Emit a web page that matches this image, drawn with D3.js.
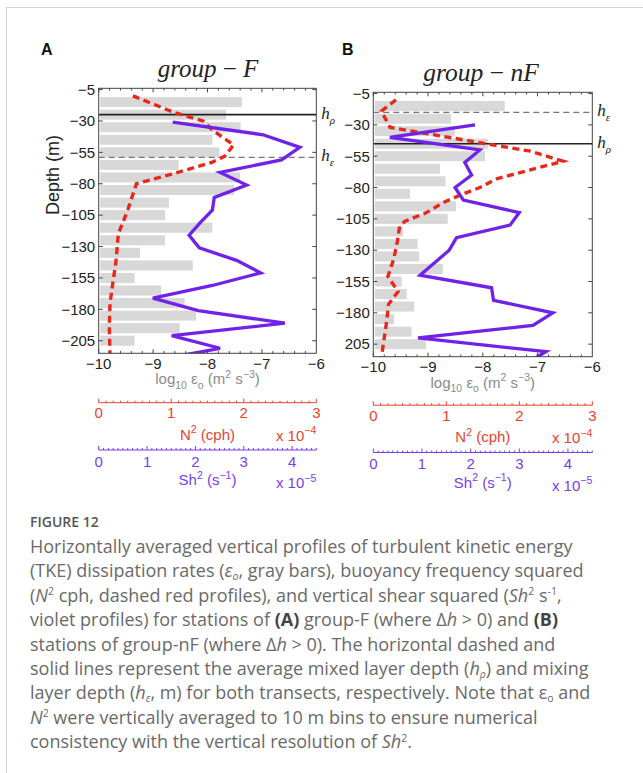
<!DOCTYPE html>
<html><head><meta charset="utf-8">
<script src="https://cdn.jsdelivr.net/npm/d3@7"></script>
<style>body{margin:0;background:#fff}svg{display:block}</style>
</head><body>
<svg id="c" width="643" height="773"></svg>
<script>
// ---------------- data ----------------
const yTicks = [-5, -30, -55, -80, -105, -130, -155, -180, -205];
const yTickLabelsA = ["\u22125", "\u221230", "\u221255", "\u221280", "\u2212105", "\u2212130", "\u2212155", "\u2212180", "\u2212205"];
const yTickLabelsB = ["\u22125", "\u221230", "\u221255", "\u221280", "\u2212105", "\u2212130", "\u2212155", "\u2212180", "205"];
const xTicks = [-10, -9, -8, -7, -6];
const xTickLabels = ["\u221210", "\u22129", "\u22128", "\u22127", "\u22126"];
const n2Ticks = [0, 1, 2, 3];
const shTicks = [0, 1, 2, 3, 4];

// 10 m bins (depth, m) for log10 epsilon bars
const binDepths = [-15, -25, -35, -45, -55, -65, -75, -85, -95, -105, -115, -125, -135, -145, -155, -165, -175, -185, -195, -205];
const epsA = [-7.37, -7.66, -7.39, -7.91, -7.78, -8.53, -7.40, -7.51, -8.71, -8.78, -7.91, -8.78, -9.24, -8.27, -9.34, -8.85, -8.42, -8.21, -8.51, -9.34];
const epsB = [-7.60, -8.58, -8.51, -7.90, -7.96, -8.78, -8.68, -9.33, -8.49, -8.64, -9.46, -9.19, -9.16, -8.73, -9.48, -9.39, -9.25, -9.62, -9.30, -9.04];

// N^2 (x 1e-4 cph)
const n2DepthA = [-10, -23, -30, -37, -49, -58, -63, -72, -80, -101, -120, -141, -157, -175, -194, -216];
const n2A = [0.47, 1.03, 1.44, 1.56, 1.86, 1.74, 1.56, 1.03, 0.52, 0.40, 0.27, 0.24, 0.20, 0.156, 0.146, 0.156];
const n2DepthB = [-10, -19, -32, -51, -59, -73, -80, -86, -92, -100, -107, -111, -123, -137, -151, -163, -173, -188, -204, -216];
const n2B = [0.31, 0.11, 0.23, 2.15, 2.60, 1.69, 1.46, 1.19, 0.96, 0.73, 0.43, 0.36, 0.33, 0.28, 0.20, 0.34, 0.21, 0.18, 0.14, 0.11];

// Sh^2 (x 1e-5 s^-1)
const shDepthA = [-31, -41, -51, -61, -71, -81, -91, -101, -111, -121, -131, -141, -151, -161, -171, -181, -191, -201, -211, -221];
const shA = [1.53, 3.40, 4.16, 3.78, 2.51, 3.06, 2.39, 2.35, 2.10, 1.87, 2.08, 2.85, 3.35, 2.35, 1.12, 2.06, 3.85, 1.51, 2.51, 1.10];
const shDepthB = [-30, -40, -50, -60, -70, -80, -90, -100, -110, -120, -130, -140, -150, -160, -170, -180, -190, -200, -211, -220];
const shB = [2.09, 0.34, 2.19, 1.88, 2.02, 1.68, 1.85, 3.00, 2.81, 1.71, 1.56, 1.26, 0.96, 2.43, 2.47, 3.69, 3.28, 0.92, 3.55, 3.15];

// mixed layer depth (h_rho) and mixing layer depth (h_eps), m
const hRho = [-25, -45];
const hEps = [-59, -20];
const titles = ["F", "nF"];
const panelLetters = ["A", "B"];

// ---------------- drawing ----------------
const svg = d3.select("#c");
svg.append("rect").attr("width", 643).attr("height", 773).attr("fill", "#fff");
svg.append("rect").attr("x", 6.5).attr("y", 7.5).attr("width", 700).attr("height", 800)
  .attr("fill", "none").attr("stroke", "#d2d2d2").attr("stroke-width", 1);

const SANS = "'Liberation Sans', Arial, sans-serif";
const SERIF = "'Liberation Serif', 'Times New Roman', serif";
const RED = "#e8281a", REDT = "#e8432e";
const PUR = "#7022e8", PURT = "#7b3cec";

function rich(g, x, y, parts, o) {
  const t = g.append("text").attr("x", x).attr("y", y)
    .attr("font-family", o.family || SANS).attr("font-size", o.size)
    .attr("fill", o.fill || "#222").attr("text-anchor", o.anchor || "start");
  let shift = 0;
  const small = o.small || o.size * 0.7;
  const supK = o.supK || 0.42, subK = o.subK || 0.3;
  parts.forEach(p => {
    const s = t.append("tspan").text(p.t);
    const target = p.sup ? -o.size * supK : p.sub ? o.size * subK : 0;
    if (target !== shift) s.attr("dy", target - shift);
    shift = target;
    if (p.sup || p.sub) s.attr("font-size", small);
    if (p.i) s.attr("font-style", "italic");
    if (p.b) s.attr("font-weight", "bold");
    if (p.f) s.attr("font-family", p.f);
    if (p.fill) s.attr("fill", p.fill);
  });
  return t;
}

const panels = [
  { L: 98.7, R: 316.3, T: 88.3, B: 353.3, dy: 0, eps: epsA, yLab: yTickLabelsA, n2d: n2DepthA, n2: n2A, shd: shDepthA, sh: shA, letterX: 41, titleX: 208, titleY: 77, titleSize: 25 },
  { L: 373.3, R: 592.3, T: 92.3, B: 356.7, dy: 2.5, eps: epsB, yLab: yTickLabelsB, n2d: n2DepthB, n2: n2B, shd: shDepthB, sh: shB, letterX: 342, titleX: 481, titleY: 81, titleSize: 25.5 }
];

panels.forEach((P, k) => {
  const g = svg.append("g");
  const x = d3.scaleLinear().domain([-10, -6]).range([P.L, P.R]);
  const y = d3.scaleLinear().domain([-4, -215]).range([P.T, P.B]);
  const xn = d3.scaleLinear().domain([0, 3]).range([P.L, P.R]);
  const xs = d3.scaleLinear().domain([0, 4.5]).range([P.L, P.R]);

  const clipId = "clip" + k;
  g.append("clipPath").attr("id", clipId).append("rect")
    .attr("x", P.L).attr("y", P.T).attr("width", P.R - P.L).attr("height", P.B - P.T);

  // letters & titles
  g.append("text").attr("x", P.letterX).attr("y", 55).attr("font-family", SANS)
    .attr("font-weight", "bold").attr("font-size", 16).attr("fill", "#111").text(panelLetters[k]);
  rich(g, P.titleX, P.titleY, [
    { t: "group", i: true }, { t: " \u2212 " }, { t: titles[k], i: true }
  ], { family: SERIF, size: P.titleSize, anchor: "middle", fill: "#222" });

  const pg = g.append("g").attr("clip-path", `url(#${clipId})`);
  // bars
  pg.selectAll("rect.bar").data(binDepths).join("rect").attr("class", "bar")
    .attr("x", x(-10) + 1.5)
    .attr("y", d => y(d + 4))
    .attr("width", (d, i) => x(P.eps[i]) - x(-10) - 1.5)
    .attr("height", d => y(d - 4) - y(d + 4))
    .attr("fill", "#d8d8d8");

  // horizontal reference lines
  pg.append("line").attr("x1", P.L).attr("x2", P.R).attr("y1", y(hRho[k])).attr("y2", y(hRho[k]))
    .attr("stroke", "#222").attr("stroke-width", 1.6);
  pg.append("line").attr("x1", P.L).attr("x2", P.R).attr("y1", y(hEps[k])).attr("y2", y(hEps[k]))
    .attr("stroke", "#777").attr("stroke-width", 1.1).attr("stroke-dasharray", "6,4");

  // N2 dashed red
  const n2Line = d3.line().x(d => xn(d[1])).y(d => y(d[0]));
  pg.append("path").datum(P.n2d.map((d, i) => [d, P.n2[i]]))
    .attr("d", n2Line).attr("fill", "none").attr("stroke", RED)
    .attr("stroke-width", 3.4).attr("stroke-dasharray", "7,4.5");
  // Sh2 violet
  const shLine = d3.line().x(d => xs(d[1])).y(d => y(d[0]));
  pg.append("path").datum(P.shd.map((d, i) => [d, P.sh[i]]))
    .attr("d", shLine).attr("fill", "none").attr("stroke", PUR)
    .attr("stroke-width", 3.3).attr("stroke-linejoin", "miter");

  // frame
  g.append("rect").attr("x", P.L).attr("y", P.T).attr("width", P.R - P.L).attr("height", P.B - P.T)
    .attr("fill", "none").attr("stroke", "#444").attr("stroke-width", 1);

  // x ticks (top & bottom, inward)
  const minorX = d3.range(-10, -6.001, 0.2);
  minorX.forEach(v => {
    const major = Math.abs(v - Math.round(v)) < 1e-6;
    const len = major ? 4 : 2.2;
    g.append("line").attr("x1", x(v)).attr("x2", x(v)).attr("y1", P.B).attr("y2", P.B - len).attr("stroke", "#444");
    g.append("line").attr("x1", x(v)).attr("x2", x(v)).attr("y1", P.T).attr("y2", P.T + len).attr("stroke", "#444");
  });
  // y ticks (left & right, inward)
  yTicks.forEach(v => {
    g.append("line").attr("x1", P.L).attr("x2", P.L + 4).attr("y1", y(v)).attr("y2", y(v)).attr("stroke", "#444");
    g.append("line").attr("x1", P.R).attr("x2", P.R - 4).attr("y1", y(v)).attr("y2", y(v)).attr("stroke", "#444");
  });
  g.selectAll("text.yt").data(yTicks).join("text").attr("class", "yt")
    .attr("x", P.L - 3.5).attr("y", d => y(d) + 5.3).attr("text-anchor", "end")
    .attr("font-family", SANS).attr("font-size", 15).attr("fill", "#222")
    .text((d, i) => P.yLab[i]);
  g.selectAll("text.xt").data(xTicks).join("text").attr("class", "xt")
    .attr("x", d => x(d)).attr("y", P.B + 15.5).attr("text-anchor", "middle")
    .attr("font-family", SANS).attr("font-size", 15).attr("fill", "#222")
    .text((d, i) => xTickLabels[i]);

  if (k === 0) {
    g.append("text").attr("transform", "translate(59,175) rotate(-90)")
      .attr("text-anchor", "middle").attr("font-family", SANS).attr("font-size", 18)
      .attr("fill", "#222").text("Depth (m)");
  }

  const cx = (P.L + P.R) / 2;
  rich(g, cx, P.B + 31, [
    { t: "log" }, { t: "10", sub: true }, { t: " \u03b5" }, { t: "o", sub: true }, { t: " (m" }, { t: "2", sup: true }, { t: " s" }, { t: "\u22123", sup: true }, { t: ")" }
  ], { size: 15, anchor: "middle", fill: "#8a8a8a" });

  // N2 axis (red)
  const ny = 402.7 + P.dy;
  g.append("line").attr("x1", P.L).attr("x2", P.R).attr("y1", ny).attr("y2", ny).attr("stroke", REDT).attr("stroke-width", 1);
  d3.range(0, 3.001, 0.1).forEach(v => {
    const major = Math.abs(v - Math.round(v)) < 1e-6;
    g.append("line").attr("x1", xn(v)).attr("x2", xn(v)).attr("y1", ny).attr("y2", ny - (major ? 4 : 2))
      .attr("stroke", REDT).attr("stroke-width", 1);
  });
  g.selectAll("text.nt").data(n2Ticks).join("text").attr("class", "nt")
    .attr("x", d => xn(d)).attr("y", ny + 15.5).attr("text-anchor", "middle")
    .attr("font-family", SANS).attr("font-size", 15).attr("fill", REDT).text(d => d);
  rich(g, cx, ny + 37, [{ t: "N" }, { t: "2", sup: true }, { t: " (cph)" }], { size: 15, anchor: "middle", fill: REDT });
  rich(g, P.R, ny + 38, [{ t: "x 10" }, { t: "\u22124", sup: true }], { size: 15, anchor: "end", fill: REDT });

  // Sh2 axis (violet)
  const sy = 450 + P.dy;
  g.append("line").attr("x1", P.L).attr("x2", P.R).attr("y1", sy).attr("y2", sy).attr("stroke", PURT).attr("stroke-width", 1);
  d3.range(0, 4.501, 0.1).forEach(v => {
    const major = Math.abs(v - Math.round(v)) < 1e-6;
    g.append("line").attr("x1", xs(v)).attr("x2", xs(v)).attr("y1", sy).attr("y2", sy - (major ? 4 : 2))
      .attr("stroke", PURT).attr("stroke-width", 1);
  });
  g.selectAll("text.st").data(shTicks).join("text").attr("class", "st")
    .attr("x", d => xs(d)).attr("y", sy + 16.5).attr("text-anchor", "middle")
    .attr("font-family", SANS).attr("font-size", 15).attr("fill", PURT).text(d => d);
  rich(g, cx, sy + 35, [{ t: "Sh" }, { t: "2", sup: true }, { t: " (s" }, { t: "\u22121", sup: true }, { t: ")" }], { size: 15, anchor: "middle", fill: PURT });
  rich(g, P.R, sy + 38, [{ t: "x 10" }, { t: "\u22125", sup: true }], { size: 15, anchor: "end", fill: PURT });

  // h labels
  const hx = P.R + 5;
  const labs = [[hRho[k], "\u03c1"], [hEps[k], "\u03b5"]];
  labs.forEach(([d, s]) => {
    rich(g, hx, y(d) + 4, [{ t: "h", i: true }, { t: s, sub: true, i: true }], { family: SERIF, size: 17, fill: "#222", small: 11 });
  });
});

// ---------------- caption ----------------
const cap = svg.append("g");
cap.append("text").attr("x", 30).attr("y", 527).attr("font-family", "'Open Sans', sans-serif")
  .attr("font-size", 14).attr("fill", "#555").attr("font-weight", 600).text("FIGURE 12");
const CF = "'Open Sans', sans-serif";
const capLines = [
  [{ t: "Horizontally averaged vertical profiles of turbulent kinetic energy" }],
  [{ t: "(TKE) dissipation rates (" }, { t: "\u03b5", i: true }, { t: "o", sub: true, i: true }, { t: ", gray bars), buoyancy frequency squared" }],
  [{ t: "(" }, { t: "N", i: true }, { t: "2", sup: true }, { t: " cph, dashed red profiles), and vertical shear squared (" }, { t: "Sh", i: true }, { t: "2", sup: true }, { t: " s" }, { t: "-1", sup: true }, { t: "," }],
  [{ t: "violet profiles) for stations of " }, { t: "(A)", b: true, fill: "#444" }, { t: " group-F (where \u0394" }, { t: "h", i: true }, { t: " > 0) and " }, { t: "(B)", b: true, fill: "#444" }],
  [{ t: "stations of group-nF (where \u0394" }, { t: "h", i: true }, { t: " > 0). The horizontal dashed and" }],
  [{ t: "solid lines represent the average mixed layer depth (" }, { t: "h", i: true }, { t: "\u03c1", sub: true, i: true }, { t: ") and mixing" }],
  [{ t: "layer depth (" }, { t: "h", i: true }, { t: "\u03b5", sub: true, i: true }, { t: ", m) for both transects, respectively. Note that \u03b5" }, { t: "o", sub: true }, { t: " and" }],
  [{ t: "N", i: true }, { t: "2", sup: true }, { t: " were vertically averaged to 10 m bins to ensure numerical" }],
  [{ t: "consistency with the vertical resolution of " }, { t: "Sh", i: true }, { t: "2", sup: true }, { t: "." }]
];
capLines.forEach((parts, i) => {
  rich(cap, 30, 553 + i * 24.4, parts, { family: CF, size: 18, fill: "#6a6a6a", small: 10.5, subK: 0.14, supK: 0.36 });
});
</script>
</body></html>
